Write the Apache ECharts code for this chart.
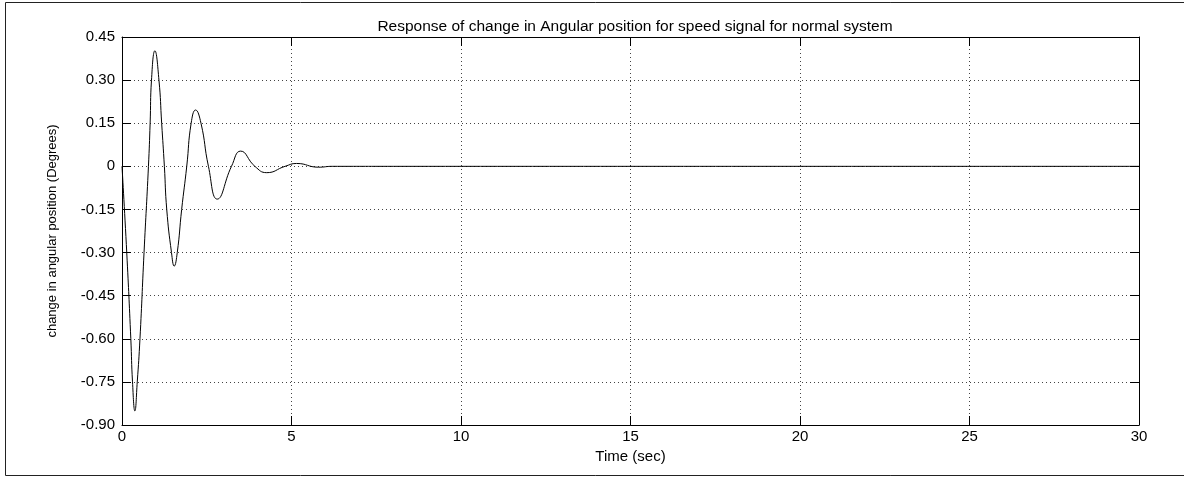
<!DOCTYPE html>
<html>
<head>
<meta charset="utf-8">
<script src="https://cdn.jsdelivr.net/npm/echarts@6/dist/echarts.min.js"></script>
<style>html,body{margin:0;padding:0;background:#fff;}#c{width:1184px;height:477px;}</style>
</head>
<body>
<div id="c"></div>
<script>
// Time samples (s)
var timeSec = [0, 0.14, 0.26, 0.31, 0.38, 0.45, 0.53, 0.65, 0.78, 0.83, 0.87, 0.97, 1.09, 1.17, 1.25, 1.32, 1.46, 1.54, 1.63, 1.76, 1.91, 2.04, 2.17, 2.33, 2.55, 2.81, 3.23, 3.50, 3.92, 4.27, 4.81, 5.15, 5.8, 6.2, 8, 30];
// Change in angular position (degrees) at those times
var angleDeg = [0, -0.30, -0.60, -0.75, -0.851, -0.75, -0.60, -0.30, 0, 0.15, 0.30, 0.402, 0.30, 0.15, 0, -0.15, -0.30, -0.347, -0.30, -0.15, 0, 0.15, 0.196, 0.15, 0, -0.114, 0, 0.053, 0, -0.022, 0, 0.010, -0.003, 0, 0, 0];
var xTicks = [0, 5, 10, 15, 20, 25, 30];
var yTicks = [-0.90, -0.75, -0.60, -0.45, -0.30, -0.15, 0, 0.15, 0.30, 0.45];

var data = timeSec.map(function (t, i) { return [t, angleDeg[i]]; });
var font = 'Liberation Sans, Arial, sans-serif';
var chart = echarts.init(document.getElementById('c'), null, {renderer: 'canvas'});
var tickStyle = {show: true, inside: true, length: 9, lineStyle: {color: '#000', width: 1}};
var gridLine = {show: true, lineStyle: {color: '#444', type: [1, 3], width: 1}};
var axLine = {show: true, onZero: false, lineStyle: {color: '#000', width: 1}};
chart.setOption({
  animation: false,
  backgroundColor: '#fff',
  title: {
    text: 'Response of change in Angular position for speed signal for normal system',
    left: 630, top: 14, textAlign: 'center',
    textStyle: {fontFamily: font, fontSize: 15.5, fontWeight: 'normal', color: '#000'}
  },
  graphic: [{
    type: 'rect', shape: {x: 5.5, y: 2.5, width: 1185, height: 473},
    style: {fill: 'none', stroke: '#222', lineWidth: 1}, silent: true
  }],
  grid: {left: 122, right: 45, top: 37, bottom: 52, containLabel: false},
  xAxis: [{
    type: 'value', min: xTicks[0], max: xTicks[xTicks.length - 1], interval: 5,
    name: 'Time (sec)', nameLocation: 'middle', nameGap: 22,
    nameTextStyle: {fontFamily: font, fontSize: 15, color: '#000'},
    axisLine: axLine,
    axisTick: tickStyle,
    axisLabel: {fontFamily: font, fontSize: 15, color: '#000', margin: 4},
    splitLine: gridLine
  }, {
    type: 'value', position: 'top', min: 0, max: 30, interval: 5,
    axisLine: axLine,
    axisTick: tickStyle, axisLabel: {show: false}, splitLine: {show: false}
  }],
  yAxis: [{
    type: 'value', min: yTicks[0], max: yTicks[yTicks.length - 1], interval: 0.15,
    name: 'change in angular position (Degrees)', nameLocation: 'middle', nameGap: 63,
    nameRotate: 90,
    nameTextStyle: {fontFamily: font, fontSize: 13, color: '#000'},
    axisLine: axLine,
    axisTick: tickStyle,
    axisLabel: {fontFamily: font, fontSize: 15, color: '#000', margin: 7,
      formatter: function (v) { return Math.abs(v) < 1e-9 ? '0' : v.toFixed(2); }},
    splitLine: gridLine
  }, {
    type: 'value', position: 'right', min: -0.9, max: 0.45, interval: 0.15,
    axisLine: axLine,
    axisTick: tickStyle, axisLabel: {show: false}, splitLine: {show: false}
  }],
  series: [{
    type: 'line', data: data, xAxisIndex: 0, yAxisIndex: 0,
    smooth: 0.5, showSymbol: false, symbol: 'none',
    lineStyle: {color: '#000', width: 1}
  }]
});
</script>
</body>
</html>
